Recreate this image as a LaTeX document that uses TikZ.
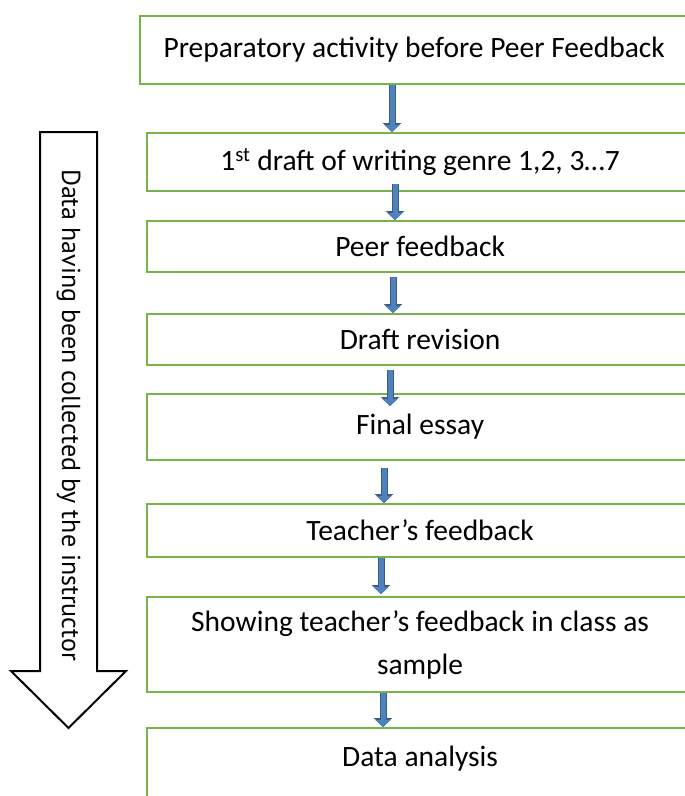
\documentclass[tikz,border=0pt]{standalone}
\usepackage{fontspec}
\setmainfont{Carlito}
\newfontfamily\arrowfont{PT Sans}
\usetikzlibrary{arrows.meta,calc}
\definecolor{boxgreen}{RGB}{118,180,75}
\definecolor{arrowblue}{RGB}{79,129,189}
\definecolor{arrowedge}{RGB}{56,93,138}
\tikzset{
    stepbox/.style={draw=boxgreen,line width=2.2,anchor=north west,minimum width=546,align=center,font=\fontsize{29.5}{43}\selectfont},
    flowarrow/.style={arrowblue,line width=5,-{Triangle[width=15,length=7]},preaction={draw=arrowedge,line width=7,-{Triangle[width=18,length=9]}}}
}

\begin{document}
\begin{tikzpicture}[x=1pt,y=-1pt]
    \useasboundingbox (0,0) rectangle (685,796);
    \clip (0,0) rectangle (685,796);
    % big arrow on the left
    \draw[line width=2] (40,132) -- (97,132) -- (97,671) -- (126,671) -- (68.5,728) -- (11,671) -- (40,671) -- cycle;
    \node[rotate=-90,font=\arrowfont\fontsize{26}{30}\selectfont] (collect) at (68.5,415) {Data having been collected by the instructor};
    % steps
    \node[stepbox,minimum width=548,minimum height=68] (prep) at (139,15) {Preparatory activity before Peer Feedback};
    \node[stepbox,minimum height=58] (draft) at (146,132) {1\textsuperscript{st} draft of writing genre 1,2, 3…7};
    \node[stepbox,minimum height=51] (peer) at (146,220) {Peer feedback};
    \node[stepbox,minimum height=51] (revise) at (146,313) {Draft revision};
    \node[stepbox,minimum height=66] (final) at (146,393) {Final essay};
    \node[stepbox,minimum height=53] (teacher) at (146,503) {Teacher’s feedback};
    \node[stepbox,minimum height=95] (show) at (146,596) {Showing teacher’s feedback in class as\\sample};
    \node[stepbox,inner ysep=18] (analysis) at (146,727) {Data analysis\\ \mbox{}};
    \foreach \p/\q/\x/\s/\e in {prep/draft/392/0/0,draft/peer/395/-8/0,peer/revise/393/4/0,revise/final/390/4/13,final/teacher/384/7/0,teacher/show/381/0/-2,show/analysis/383/0/0}
        \draw[flowarrow] ($(\x,0 |- \p.south)+(0,\s)$) -- ($(\x,0 |- \q.north)+(0,\e)$);
\end{tikzpicture}
\end{document}
